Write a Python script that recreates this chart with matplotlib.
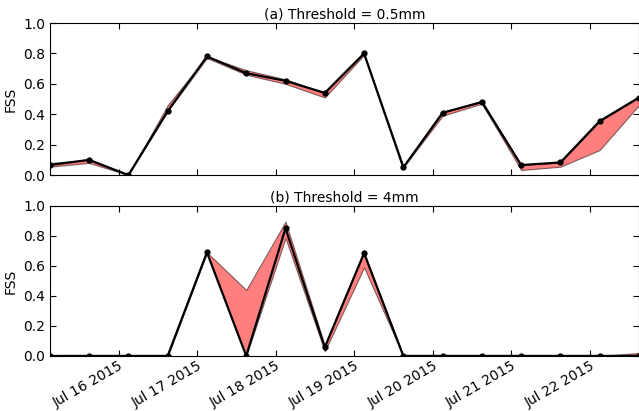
import numpy as np
import pandas as pd
import matplotlib
matplotlib.use("Agg")
import matplotlib.pyplot as plt
import matplotlib.dates as mdates

# forecast times, every 12 h
times = pd.date_range("2015-07-15 03:00", "2015-07-22 15:00", freq="12h")

# (a) threshold 0.5mm
fss_a = [0.066, 0.10, 0.0, 0.42, 0.78, 0.67, 0.62, 0.54, 0.80, 0.05, 0.41, 0.48, 0.066, 0.083, 0.355, 0.51]
lo_a = [0.055, 0.08, 0.0, 0.42, 0.77, 0.66, 0.60, 0.51, 0.79, 0.05, 0.39, 0.47, 0.033, 0.055, 0.165, 0.46]
hi_a = [0.08, 0.10, 0.0, 0.46, 0.78, 0.69, 0.63, 0.54, 0.80, 0.06, 0.41, 0.49, 0.066, 0.083, 0.355, 0.51]

# (b) threshold 4mm
fss_b = [0.0, 0.0, 0.0, 0.0, 0.69, 0.0, 0.85, 0.057, 0.685, 0.0, 0.0, 0.0, 0.0, 0.0, 0.0, 0.0]
lo_b = [0.0, 0.0, 0.0, 0.0, 0.69, 0.0, 0.785, 0.03, 0.59, 0.0, 0.0, 0.0, 0.0, 0.0, 0.0, 0.0]
hi_b = [0.0, 0.0, 0.0, 0.0, 0.69, 0.44, 0.895, 0.07, 0.69, 0.0, 0.0, 0.0, 0.0, 0.0, 0.0, 0.02]

titles = ["(a) Threshold = 0.5mm", "(b) Threshold = 4mm"]

plt.rcParams["font.family"] = "DejaVu Sans"
plt.rcParams["font.size"] = 10

fig = plt.figure(figsize=(6.39, 4.11), dpi=100)
ax1 = fig.add_axes([0.078, 0.574, 0.922, 0.370])
ax2 = fig.add_axes([0.078, 0.134, 0.922, 0.365], sharex=ax1)

for ax, fss, lo, hi, title in [(ax1, fss_a, lo_a, hi_a, titles[0]),
                               (ax2, fss_b, lo_b, hi_b, titles[1])]:
    ax.fill_between(times, lo, hi, facecolor="red", edgecolor="black",
                    alpha=0.5, linewidth=0.8)
    ax.plot(times, fss, color="black", linewidth=1.6, marker="o",
            markersize=3.5)
    ax.set_ylim(0, 1)
    ax.set_yticks(np.arange(0, 1.01, 0.2))
    ax.set_ylabel("FSS")
    ax.set_title(title, fontsize=10, pad=3)
    ax.tick_params(direction="in", top=True, right=True, length=4)

ax1.set_xlim(times[0], times[-1])
ax1.xaxis.set_major_locator(mdates.DayLocator())
ax1.xaxis.set_major_formatter(mdates.DateFormatter("%b %d %Y"))
plt.setp(ax1.get_xticklabels(), visible=False)
ax2.tick_params(axis="x", pad=2)
for lab in ax2.get_xticklabels():
    lab.set_rotation(30)
    lab.set_ha("right")
    lab.set_rotation_mode("anchor")

fig.savefig("out.png", dpi=100)
